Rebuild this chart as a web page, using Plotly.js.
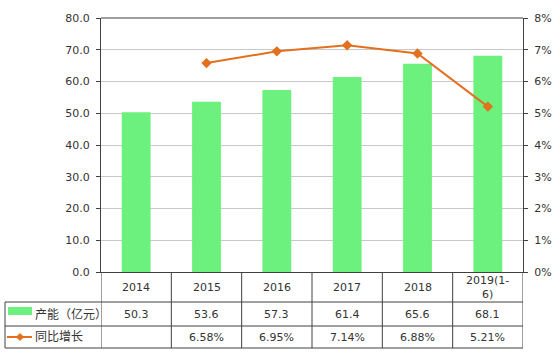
<!DOCTYPE html>
<html>
<head>
<meta charset="utf-8">
<script src="https://cdn.plot.ly/plotly-3.0.1.min.js"></script>
<style>html,body{margin:0;padding:0;background:#fff;}#chart{width:555px;height:352px;}</style>
</head>
<body>
<div id="chart"></div>
<script>
// ---- data ----
const categories = ["2014", "2015", "2016", "2017", "2018", "2019(1-6)"];
const categoryLabels = ["2014", "2015", "2016", "2017", "2018", "2019(1-<br>6)"];
const capacity = [50.3, 53.6, 57.3, 61.4, 65.6, 68.1];
const growth = [null, 6.58, 6.95, 7.14, 6.88, 5.21]; // percent
const seriesNames = ["产能（亿元）", "同比增长"];

// ---- layout constants (pixels) ----
const L = 101, R = 523, T = 18, B = 272;
const W = R - L, H = B - T;
const px = x => (x - L) / W;
const py = y => (B - y) / H;
const rowY = [272, 302, 326, 348];
const legendLeft = 5;
const FONT = "DejaVu Sans, Verdana, Noto Sans CJK SC, sans-serif";
const TXT = "#333333";
const LINE = "#404040";
const barColor = "#6cf07e";
const lineColor = "#e3701e";

const traces = [
  {
    type: "bar", x: categories, y: capacity, name: seriesNames[0],
    marker: {color: barColor}, hoverinfo: "x+y", showlegend: false
  },
  {
    type: "scatter", mode: "lines+markers", x: categories,
    y: growth.map(v => v === null ? null : v / 100), yaxis: "y2",
    name: seriesNames[1], line: {color: lineColor, width: 2},
    marker: {symbol: "diamond", size: 8, color: lineColor},
    connectgaps: false, showlegend: false
  }
];

const shapes = [];
const annotations = [];
const n = categories.length;
// table horizontal lines
for (let i = 1; i < rowY.length; i++) {
  shapes.push({type: "line", xref: "paper", yref: "paper",
    x0: px(legendLeft), x1: 1, y0: py(rowY[i]), y1: py(rowY[i]),
    line: {color: LINE, width: 1}});
}
// vertical lines
for (let i = 0; i <= n; i++) {
  shapes.push({type: "line", xref: "x", yref: "paper",
    x0: i - 0.5, x1: i - 0.5, y0: py(rowY[0]), y1: py(rowY[3]),
    line: {color: LINE, width: 1}});
}
shapes.push({type: "line", xref: "paper", yref: "paper",
  x0: px(legendLeft), x1: px(legendLeft), y0: py(rowY[1]), y1: py(rowY[3]),
  line: {color: LINE, width: 1}});
// top border
shapes.push({type: "line", xref: "paper", yref: "paper", x0: 0, x1: 1, y0: 1, y1: 1,
  line: {color: LINE, width: 1}});

const mid = (a, b) => py((a + b) / 2);
const cell = (i, y, text) => ({xref: "x", yref: "paper", x: i, y: y, xanchor: "center", yanchor: "middle",
  text: text, showarrow: false, font: {family: FONT, size: 11, color: TXT}});
categories.forEach((c, i) => {
  annotations.push(cell(i, mid(rowY[0], rowY[1]), categoryLabels[i]));
  annotations.push(cell(i, mid(rowY[1], rowY[2]), capacity[i].toFixed(1)));
  if (growth[i] !== null) {
    annotations.push(cell(i, mid(rowY[2], rowY[3]), growth[i].toFixed(2) + "%"));
  }
});
// legend keys in table
shapes.push({type: "rect", xref: "paper", yref: "paper",
  x0: px(8), x1: px(32), y0: py(307), y1: py(315),
  fillcolor: barColor, line: {width: 0}});
shapes.push({type: "line", xref: "paper", yref: "paper",
  x0: px(7), x1: px(32), y0: py(337), y1: py(337),
  line: {color: lineColor, width: 2}});
shapes.push({type: "path", xref: "paper", yref: "paper",
  path: `M ${px(20)} ${py(333.5)} L ${px(23.5)} ${py(337)} L ${px(20)} ${py(340.5)} L ${px(16.5)} ${py(337)} Z`,
  fillcolor: lineColor, line: {color: lineColor, width: 1}});
annotations.push({xref: "paper", yref: "paper", x: px(33), y: mid(rowY[1], rowY[2]),
  xanchor: "left", yanchor: "middle", text: seriesNames[0], showarrow: false, font: {family: FONT, size: 12, color: TXT}});
annotations.push({xref: "paper", yref: "paper", x: px(33), y: mid(rowY[2], rowY[3]),
  xanchor: "left", yanchor: "middle", text: seriesNames[1], showarrow: false, font: {family: FONT, size: 12, color: TXT}});

const layout = {
  width: 555, height: 352,
  margin: {l: L, r: 555 - R, t: T, b: 352 - B, pad: 0},
  paper_bgcolor: "#fff", plot_bgcolor: "#fff",
  font: {family: FONT, size: 11, color: TXT},
  bargap: 0.59,
  showlegend: false,
  xaxis: {type: "category", range: [-0.5, n - 0.5], showticklabels: false,
    showline: true, linecolor: LINE, linewidth: 1, ticks: "", showgrid: false, fixedrange: true},
  yaxis: {range: [0, 80], dtick: 10, tickformat: ".1f", showline: true, linecolor: LINE, linewidth: 1,
    ticks: "outside", ticklen: 4, tickcolor: LINE, gridcolor: "#c8c8c8", gridwidth: 1,
    zeroline: false, ticklabelstandoff: 4, tickfont: {family: FONT, size: 11, color: TXT}},
  yaxis2: {range: [0, 0.08], dtick: 0.01, tickformat: ".0%", overlaying: "y", side: "right",
    showline: true, linecolor: LINE, linewidth: 1, ticks: "outside", ticklen: 4, tickcolor: LINE,
    showgrid: false, zeroline: false, ticklabelstandoff: 4, tickfont: {family: FONT, size: 11, color: TXT}},
  shapes: shapes,
  annotations: annotations
};

Plotly.newPlot("chart", traces, layout, {displayModeBar: false, staticPlot: true});
</script>
</body>
</html>
